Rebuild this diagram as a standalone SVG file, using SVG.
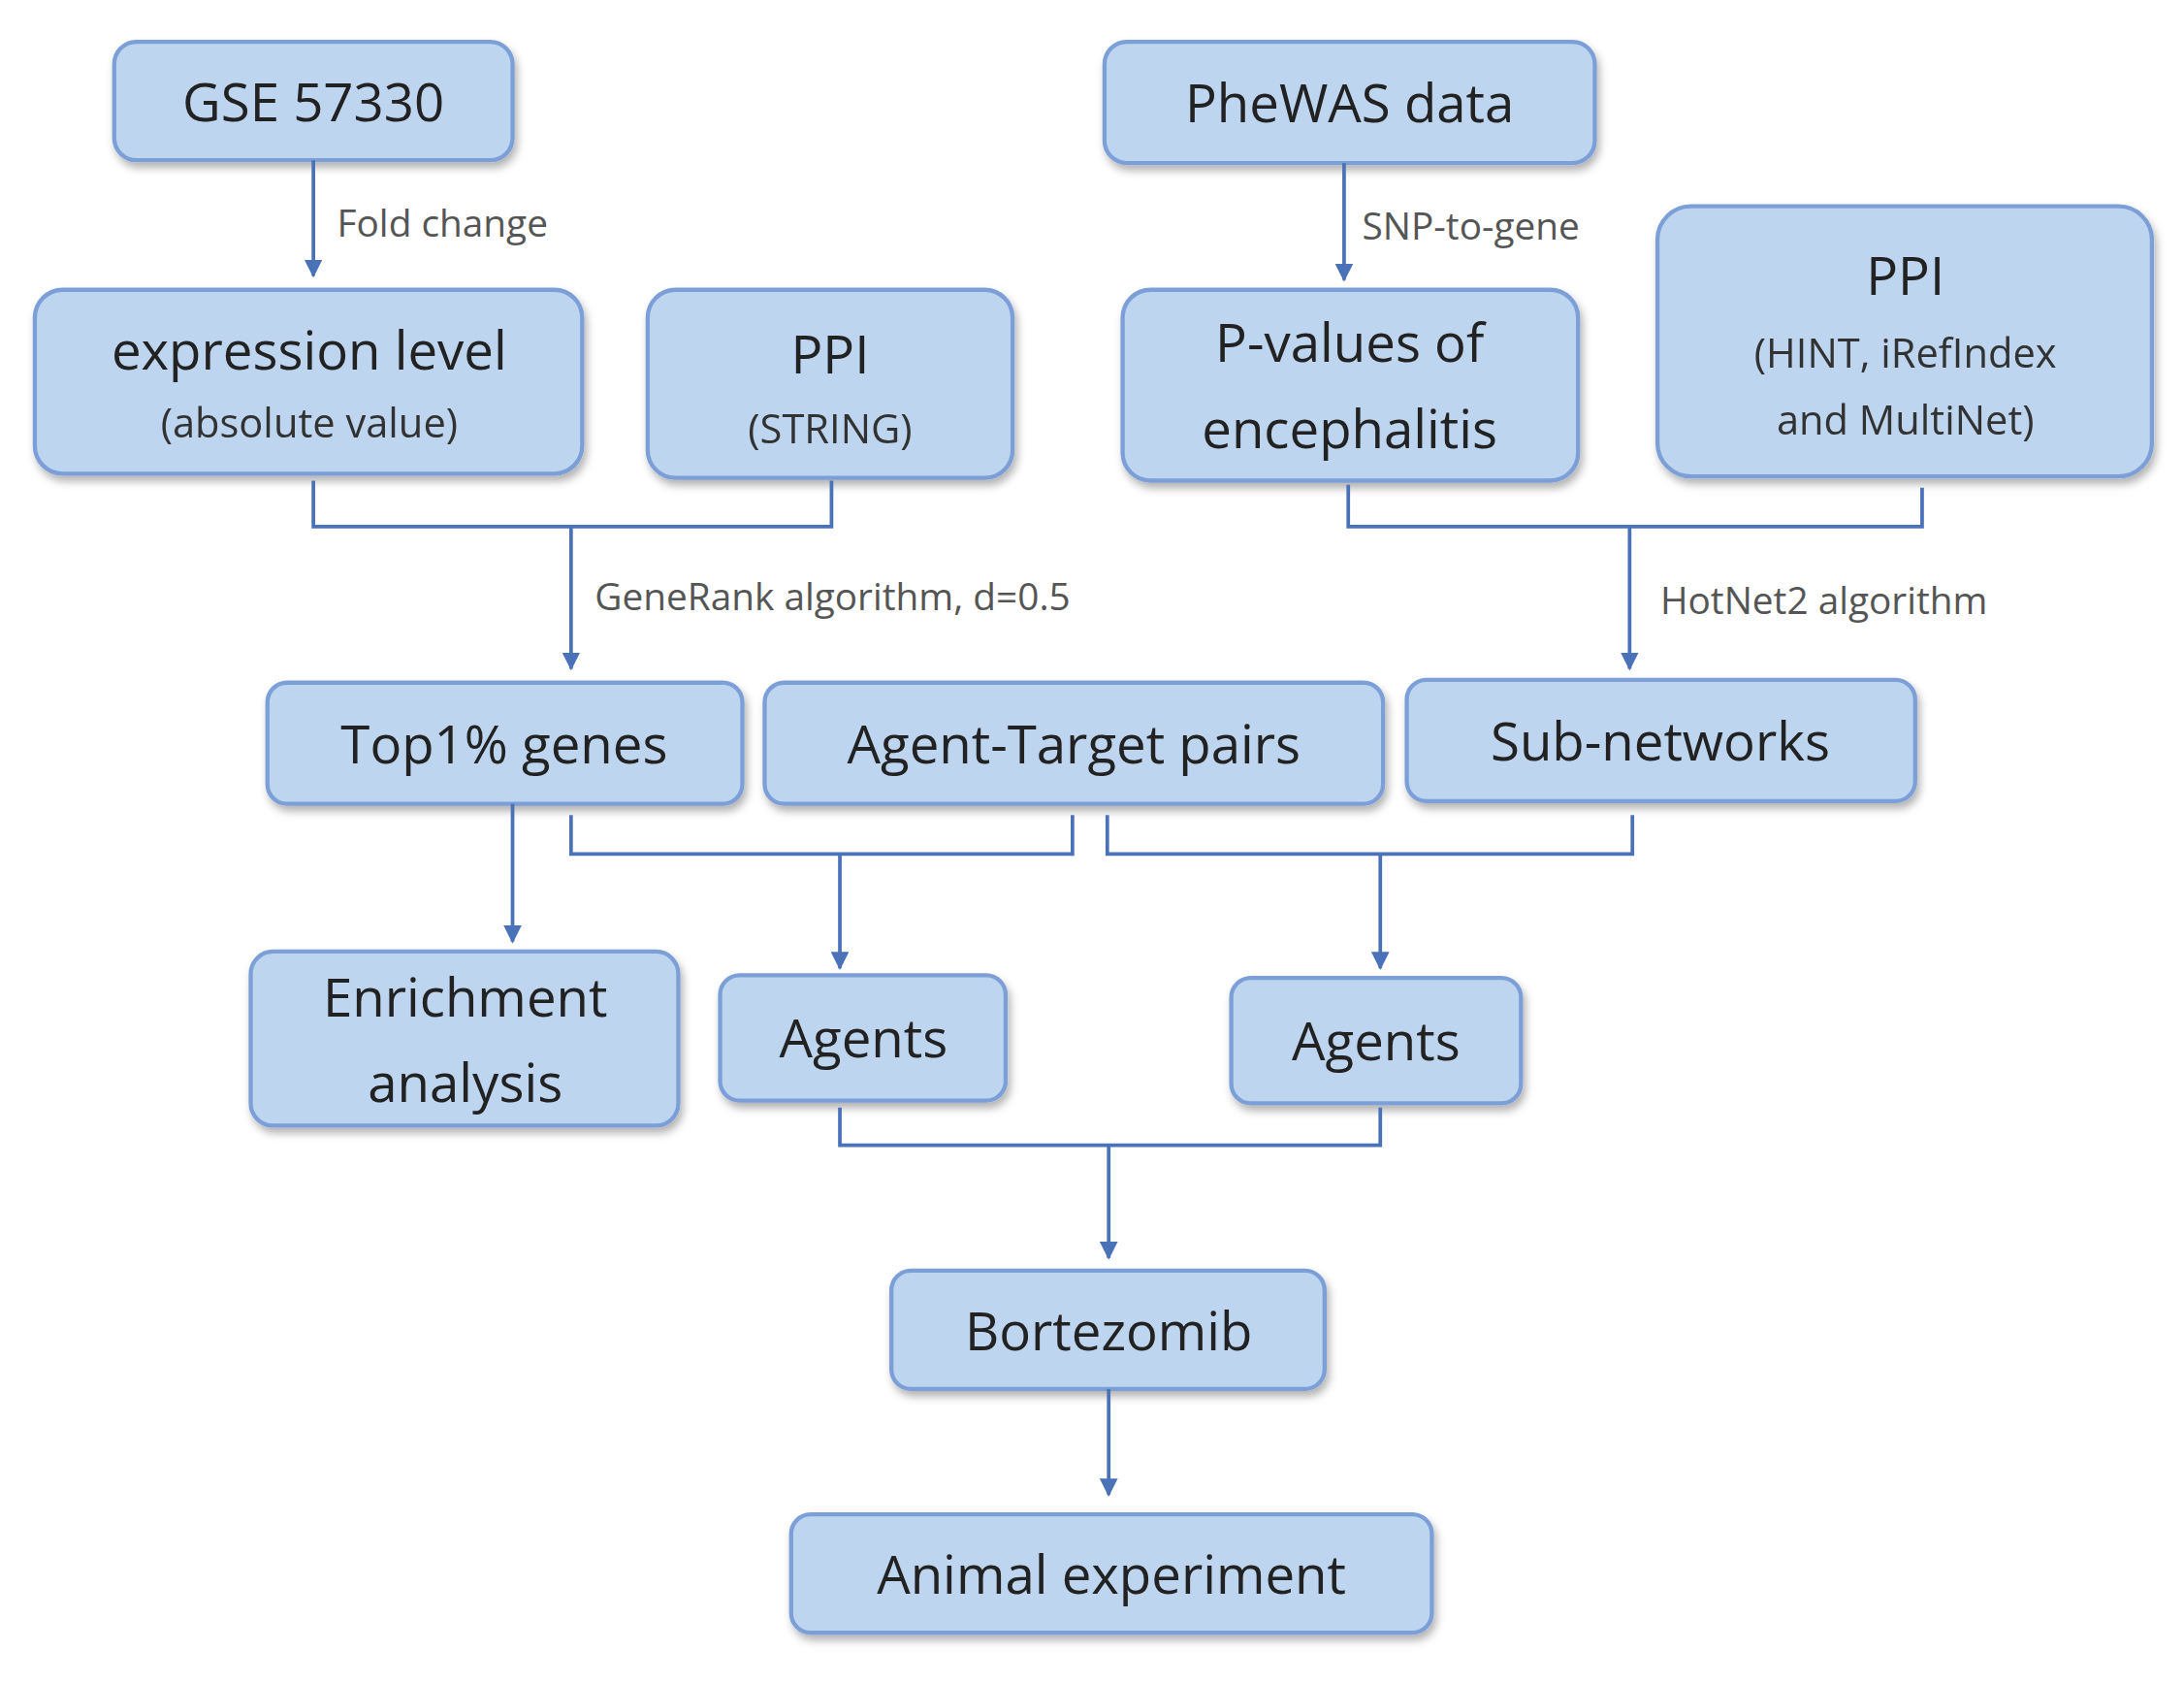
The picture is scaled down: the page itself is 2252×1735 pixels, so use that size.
<svg xmlns="http://www.w3.org/2000/svg" width="2252" height="1735" viewBox="0 0 2252 1735">
<defs>
<style>
.b rect{fill:#bdd5ef;stroke:#7d9fd8;stroke-width:3}
text{font-family:"Open Sans","Noto Sans",sans-serif;text-anchor:middle;fill:#222}
.t{font-size:38px}.s{font-size:29px;fill:#333}
.l{font-size:27px;fill:#555;text-anchor:start}
.c path{fill:none;stroke:#4a72b8;stroke-width:2.6}
</style>
<marker id="a" viewBox="0 0 10 10" refX="9" refY="5" markerWidth="5" markerHeight="5" orient="auto"><path d="M0,0L10,5L0,10z" fill="#4a72b8"/></marker>
<filter id="sh" x="-10%" y="-10%" width="130%" height="140%"><feDropShadow dx="2" dy="4" stdDeviation="3" flood-color="#000" flood-opacity="0.3"/></filter>
</defs>
<rect width="2252" height="1735" fill="#fff"/>
<g transform="scale(1.4362)">
<g class="b" filter="url(#sh)">
<g id="gse"><rect x="82" y="30" width="286" height="85" rx="16"/><text class="t" x="225" y="87">GSE 57330</text></g>
<g id="expr"><rect x="25" y="208" width="393" height="132" rx="20"/><text class="t" x="222" y="265">expression level</text><text class="s" x="222" y="314">(absolute value)</text></g>
<g id="ppi1"><rect x="465" y="208" width="262" height="135" rx="20"/><text class="t" x="596" y="268">PPI</text><text class="s" x="596" y="318">(STRING)</text></g>
<g id="phewas"><rect x="793" y="30" width="352" height="87" rx="16"/><text class="t" x="969" y="88">PheWAS data</text></g>
<g id="pval"><rect x="806" y="208" width="327" height="137" rx="20"/><text class="t" x="969" y="260">P-values of</text><text class="t" x="969" y="322">encephalitis</text></g>
<g id="ppi2"><rect x="1190" y="148" width="355" height="194" rx="24"/><text class="t" x="1368" y="212">PPI</text><text class="s" x="1368" y="264">(HINT, iRefIndex</text><text class="s" x="1368" y="312">and MultiNet)</text></g>
<g id="top"><rect x="192" y="490" width="341" height="87" rx="14"/><text class="t" x="362" y="548">Top1% genes</text></g>
<g id="atp"><rect x="549" y="490" width="444" height="87" rx="14"/><text class="t" x="771" y="548">Agent-Target pairs</text></g>
<g id="sub"><rect x="1010" y="488" width="365" height="87" rx="14"/><text class="t" x="1192" y="546">Sub-networks</text></g>
<g id="enr"><rect x="180" y="683" width="307" height="125" rx="16"/><text class="t" x="334" y="730">Enrichment</text><text class="t" x="334" y="791">analysis</text></g>
<g id="ag1"><rect x="517" y="700" width="205" height="90" rx="14"/><text class="t" x="620" y="759">Agents</text></g>
<g id="ag2"><rect x="884" y="702" width="208" height="90" rx="14"/><text class="t" x="988" y="761">Agents</text></g>
<g id="bort"><rect x="640" y="912" width="311" height="85" rx="14"/><text class="t" x="796" y="969">Bortezomib</text></g>
<g id="anim"><rect x="568" y="1087" width="460" height="85" rx="14"/><text class="t" x="798" y="1144">Animal experiment</text></g>
</g>
<g class="c">
<path d="M225,115V198" marker-end="url(#a)"/>
<path d="M225,345V378H597V345"/>
<path d="M410,378V480" marker-end="url(#a)"/>
<path d="M965,117V201" marker-end="url(#a)"/>
<path d="M968,348V378H1380V350"/>
<path d="M1170,378V480" marker-end="url(#a)"/>
<path d="M368,577V676" marker-end="url(#a)"/>
<path d="M410,585V613H770V585"/>
<path d="M603,613V695" marker-end="url(#a)"/>
<path d="M795,585V613H1172V585"/>
<path d="M991,613V695" marker-end="url(#a)"/>
<path d="M603,795V822H991V795"/>
<path d="M796,822V903" marker-end="url(#a)"/>
<path d="M796,997V1073" marker-end="url(#a)"/>
</g>
<g>
<text class="l" x="242" y="170">Fold change</text>
<text class="l" x="978" y="172">SNP-to-gene</text>
<text class="l" x="427" y="438">GeneRank algorithm, d=0.5</text>
<text class="l" x="1192" y="441">HotNet2 algorithm</text>
</g>
</g>
</svg>
